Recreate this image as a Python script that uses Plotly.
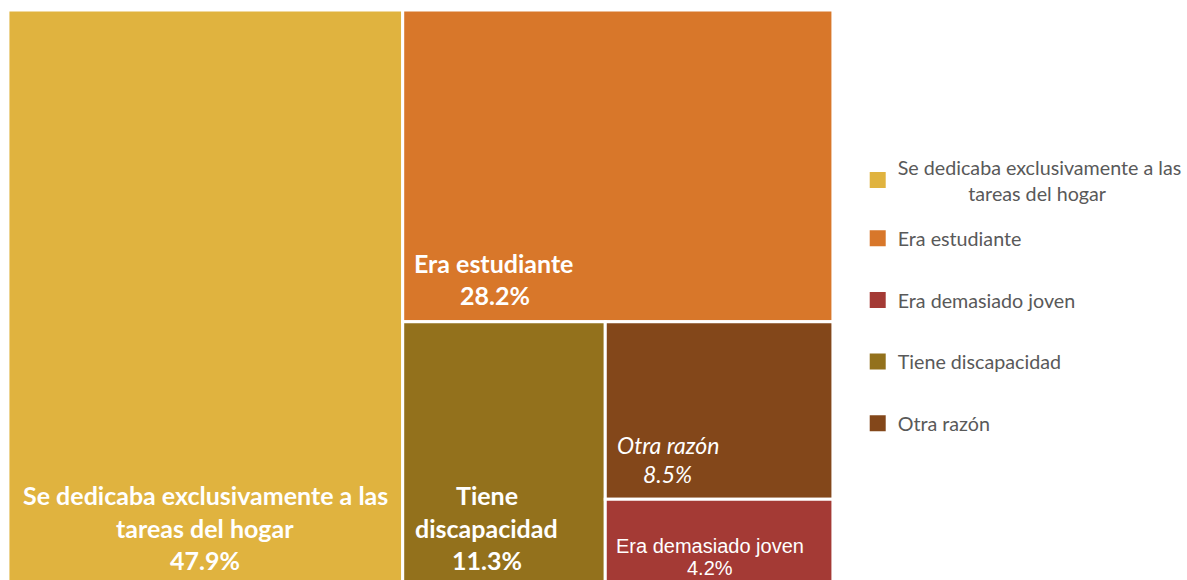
import plotly.graph_objects as go

# data
razones = ["Se dedicaba exclusivamente a las tareas del hogar", "Era estudiante",
           "Tiene discapacidad", "Otra razón", "Era demasiado joven"]
porcentajes = [47.9, 28.2, 11.3, 8.5, 4.2]
colores = ["#E0B33F", "#D8772A", "#93711C", "#83471A", "#A43A35"]

legend_order = ["Se dedicaba exclusivamente a las tareas del hogar", "Era estudiante",
                "Era demasiado joven", "Tiene discapacidad", "Otra razón"]

# figure a bit taller than the window: the source chart is cropped at the bottom
W, H = 1187, 587

fig = go.Figure()
fig.add_trace(go.Treemap(
    labels=razones, parents=[""] * len(razones), values=porcentajes,
    marker=dict(colors=colores, line=dict(color="white", width=3),
                pad=dict(t=0, l=0, r=0, b=0)),
    tiling=dict(packing="squarify", pad=0),
    pathbar=dict(visible=False),
    textinfo="none", sort=True, hoverinfo="label+value",
    domain=dict(x=[8 / W, 840 / W], y=[0, 1 - 10 / H]),
))

# legend via dummy traces (first item in its own legend so the wrapped label
# does not push the others down)
pad = "\u00a0" * 14
for i, name in enumerate(legend_order):
    c = colores[razones.index(name)]
    txt = name.replace("exclusivamente a las ", "exclusivamente a las<br>" + pad)
    fig.add_trace(go.Scatter(x=[None], y=[None], mode="markers", name=txt,
                             legendgroup=name, legend="legend" if i == 0 else "legend2",
                             marker=dict(symbol="square", size=17, color=c)))


def px2paper(x, y):
    return x / W, 1 - y / H


def label(lines, x, y, dy, font, xanchor="center"):
    for i, t in enumerate(lines):
        xx, yy = px2paper(x, y + i * dy)
        fig.add_annotation(text=t, x=xx, y=yy, xref="paper", yref="paper",
                           xanchor=xanchor, yanchor="middle", showarrow=False, font=font)


off = -2
bold = dict(family="Lato", size=25, color="white", weight="bold")
label(["Se dedicaba exclusivamente a las", "tareas del hogar",
       f"{porcentajes[0]}%"], 207, 497 + off, 32.5, bold)
label(["Era estudiante"], 416, 265 + off, 0, bold, xanchor="left")
label([f"{porcentajes[1]}%"], 499, 297 + off, 0, bold)
label(["Tiene", "discapacidad", f"{porcentajes[2]}%"], 491, 497 + off, 32.5, bold)
ital = dict(family="Lato", size=23, color="white", style="italic")
label(["Otra razón"], 620, 447 + off, 0, ital, xanchor="left")
label([f"{porcentajes[3]}%"], 673, 476 + off, 0, ital)
arial = dict(family="Liberation Sans", size=20, color="white")
label(["Era demasiado joven", f"{porcentajes[4]}%"], 716, 548 + off, 22, arial)

leg_font = dict(family="Lato", size=19.7, color="#595959")
fig.update_layout(
    width=W, height=H,
    margin=dict(l=0, r=0, t=0, b=0),
    paper_bgcolor="white", plot_bgcolor="white",
    xaxis=dict(visible=False, domain=[0.99, 1]), yaxis=dict(visible=False, domain=[0.99, 1]),
    showlegend=True,
    legend=dict(x=865 / W, y=1 - 148 / H, xanchor="left", yanchor="top", font=leg_font,
                itemsizing="trace", bgcolor="rgba(0,0,0,0)"),
    legend2=dict(x=865 / W, y=1 - 219 / H, xanchor="left", yanchor="top", font=leg_font,
                 tracegroupgap=33, itemsizing="trace", bgcolor="rgba(0,0,0,0)"),
)

fig.write_html("out.html", config={"displayModeBar": False},
               post_script="document.body.style.margin='0';"
                           "document.body.style.overflow='hidden';")
